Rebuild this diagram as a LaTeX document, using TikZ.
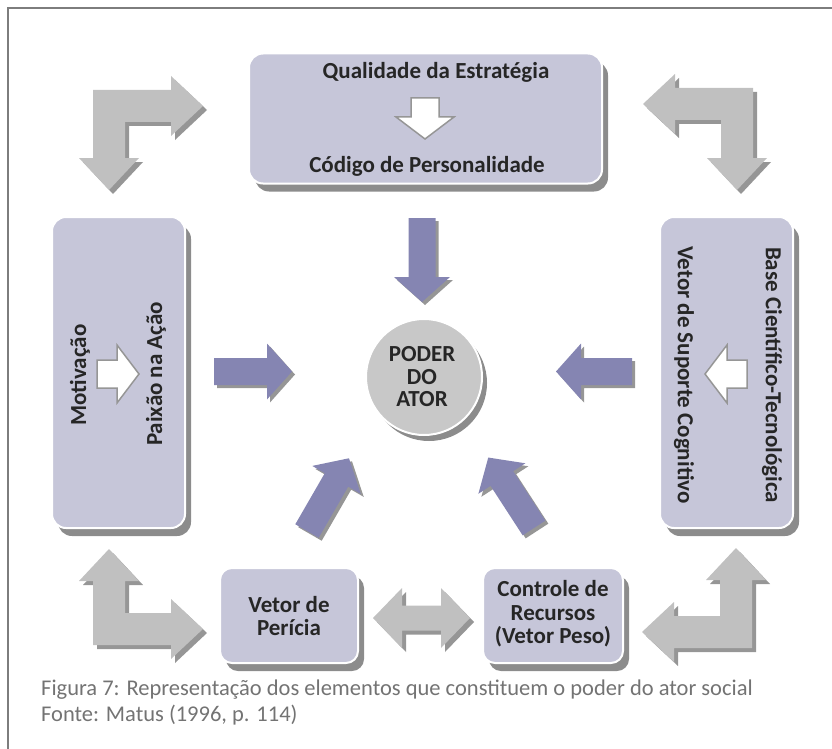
\documentclass[tikz,border=0pt]{standalone}
\usepackage{fontspec}
\setmainfont{Carlito}
\usetikzlibrary{shadows}

\definecolor{boxfill}{RGB}{198,198,217}
\definecolor{boxshade}{RGB}{140,140,140}
\definecolor{vetorblue}{RGB}{133,133,178}
\definecolor{elbowgray}{RGB}{192,192,192}
\definecolor{elbowshade}{RGB}{150,150,150}
\definecolor{ringgray}{RGB}{200,200,200}
\definecolor{framegray}{RGB}{125,125,125}
\definecolor{captiongray}{RGB}{115,115,115}
\definecolor{hollowedge}{RGB}{150,150,150}

\tikzset{
  painel/.style={rectangle, rounded corners=14pt, fill=boxfill, draw=white, line width=2pt,
    drop shadow={shadow xshift=6pt, shadow yshift=-8pt, opacity=1, fill=boxshade}},
  rotulo/.style={font=\bfseries\fontsize{23}{23.5}\selectfont, align=center, text=black!85, inner sep=0pt},
  azul/.style={fill=vetorblue, drop shadow={shadow xshift=3pt, shadow yshift=-3pt, opacity=1, fill=elbowshade}},
  cinza/.style={fill=elbowgray, drop shadow={shadow xshift=4pt, shadow yshift=-4pt, opacity=1, fill=elbowshade}},
  vazada/.style={fill=white, draw=hollowedge, line width=1.5pt},
  legenda/.style={font=\fontsize{22.5}{26}\selectfont, text=captiongray, inner sep=0pt, anchor=base west},
  pics/vetor/.style={code={
    \path[azul] (0,-13.5) -- ({#1-25},-13.5) -- ({#1-25},-28) -- (#1,0) -- ({#1-25},28) -- ({#1-25},13.5) -- (0,13.5) -- cycle;
  }},
  pics/seta/.style={code={
    \path[vazada] (0,-14) -- ({#1-22},-14) -- ({#1-22},-29) -- (#1,0) -- ({#1-22},29) -- ({#1-22},14) -- (0,14) -- cycle;
  }},
  pics/cotovelo/.style 2 args={code={
    \path[cinza] (-16,-16) -- ({#1-32},-16) -- ({#1-32},-30) -- (#1,0) -- ({#1-32},30) -- ({#1-32},16)
      -- (16,16) -- (16,{#2-32}) -- (30,{#2-32}) -- (0,#2) -- (-30,{#2-32}) -- (-16,{#2-32}) -- cycle;
  }},
}

\begin{document}
\begin{tikzpicture}[x=1pt, y=-1pt]
\useasboundingbox (0,0) rectangle (832,749);

% Frame of the figure
\draw[framegray, line width=2pt] (8,749) -- (8,8) -- (832,8);%

% Boxes
\node[painel, minimum width=353pt, minimum height=130pt] (estrategia) at (425.5,118.5) {};%
\node[painel, minimum width=133pt, minimum height=311pt] (motivacao) at (118.5,372.5) {};%
\node[painel, minimum width=133pt, minimum height=311pt] (suporte) at (726.5,372.5) {};%
\node[painel, rounded corners=12pt, minimum width=138pt, minimum height=95pt] (pericia) at (289,615.5) {};%
\node[painel, rounded corners=12pt, minimum width=140pt, minimum height=95pt] (recursos) at (553,615.5) {};%

% Centre circle
\node[circle, fill=ringgray, draw=white, line width=2pt, minimum size=116pt,
  drop shadow={shadow xshift=5pt, shadow yshift=-6pt, opacity=1, fill=boxshade}] (poder) at (424,377) {};%

% Texts of the boxes
\node[rotulo, anchor=base] (qualidade) at (436,79) {Qualidade da Estratégia};%
\node[rotulo, anchor=base] (codigo) at (427,172) {Código de Personalidade};%
\node[rotulo, rotate=90] (motiv) at (80,375) {Motivação};%
\node[rotulo, rotate=90] (paixao) at (156,374) {Paixão na Ação};%
\node[rotulo, rotate=-90] (vetorsup) at (684,375) {Vetor de Suporte Cognitivo};%
\node[rotulo, rotate=-90] (base) at (772,375) {Base Científico-Tecnológica};%
\node[rotulo] (pericialbl) at (289,616) {Vetor de\\Perícia};%
\node[rotulo] (recursoslbl) at (553,614) {Controle de\\Recursos\\(Vetor Peso)};%
\node[rotulo, font=\bfseries\fontsize{23}{22.5}\selectfont] (poderlbl) at (422,377) {PODER\\DO\\ATOR};%

% White arrows inside the boxes
\pic[rotate=-90] at (425,98) {seta=41};%
\pic at (97,374) {seta=42};%
\pic[rotate=180] at (747,374) {seta=42};%

% Blue arrows towards the centre
\pic[rotate=-90] at (422,218) {vetor=84};%
\pic at (214,371.5) {vetor=78};%
\pic[rotate=180] at (632,371.5) {vetor=76};%
\pic[rotate=60] at (307,531) {vetor=84};%
\pic[rotate=123] at (534,528) {vetor=84};%

% Grey elbow arrows in the corners
\pic at (109,106) {cotovelo={94}{84}};%
\pic[xscale=-1] at (737,104) {cotovelo={94}{86}};%
\pic[yscale=-1] at (109,629) {cotovelo={94}{80}};%
\pic[xscale=-1, yscale=-1] at (736,632) {cotovelo={94}{84}};%

% Grey double arrow between the lower boxes
\path[cinza] (373,618) -- (402,588) -- (402,605.5) -- (441,605.5) -- (441,588) -- (470,618)
  -- (441,648) -- (441,630.5) -- (402,630.5) -- (402,648) -- cycle;%

% Caption
\node[legenda] (figura) at (41,695) {Figura 7: Representação dos elementos que constituem o poder do ator social};%
\node[legenda] (fonte) at ([yshift=-26pt]figura.base west) {Fonte: Matus (1996, p. 114)};%
\end{tikzpicture}
\end{document}
